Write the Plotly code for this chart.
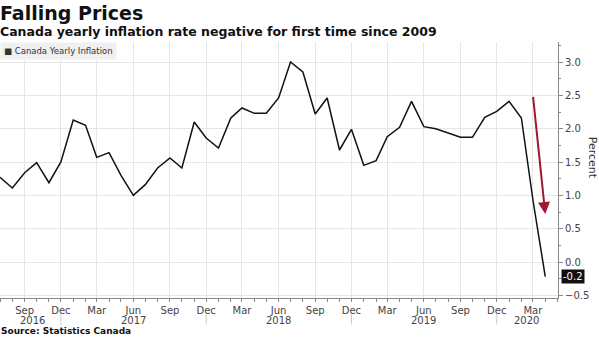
import plotly.graph_objects as go
import pandas as pd

months = pd.date_range("2016-07-01", "2020-04-01", freq="MS")
inflation = [1.27, 1.11, 1.34, 1.49, 1.19, 1.50,
             2.13, 2.05, 1.57, 1.64, 1.30, 1.00, 1.16, 1.41, 1.56, 1.41, 2.10, 1.86,
             1.71, 2.16, 2.31, 2.23, 2.23, 2.46, 3.00, 2.85, 2.22, 2.46, 1.68, 1.99,
             1.45, 1.52, 1.88, 2.02, 2.41, 2.03, 2.00, 1.93, 1.87, 1.87, 2.17, 2.26,
             2.41, 2.16, 0.93, -0.22]
tick_dates = ["2016-09-01", "2016-12-01", "2017-03-01", "2017-06-01", "2017-09-01",
              "2017-12-01", "2018-03-01", "2018-06-01", "2018-09-01", "2018-12-01",
              "2019-03-01", "2019-06-01", "2019-09-01", "2019-12-01", "2020-03-01"]
tick_text = ["Sep", "Dec", "Mar", "Jun", "Sep", "Dec", "Mar", "Jun", "Sep", "Dec",
             "Mar", "Jun", "Sep", "Dec", "Mar"]
year_labels = ["2016", "2017", "2018", "2019", "2020"]
year_pos = ["2016-09-20", "2017-06-01", "2018-06-01", "2019-06-01", "2020-02-15"]
year_seps = ["2016-12-01", "2017-12-01", "2018-12-01", "2019-12-01"]
y_ticks = [-0.5, 0.0, 0.5, 1.0, 1.5, 2.0, 2.5, 3.0]
last_label = "-0.2"

FONT = "DejaVu Sans"
fig = go.Figure()
fig.add_trace(go.Scatter(x=months, y=inflation, mode="lines",
                         line=dict(color="#111111", width=1.5),
                         name="Canada Yearly Inflation", showlegend=False,
                         hoverinfo="skip"))

fig.update_layout(
    width=599, height=337,
    margin=dict(l=0, r=41, t=42, b=39),
    paper_bgcolor="white", plot_bgcolor="white",
    font=dict(family=FONT, color="#333333", size=10),
    xaxis=dict(
        type="date",
        range=["2016-07-01", "2020-05-03"],
        tickmode="array", tickvals=tick_dates, ticktext=tick_text,
        ticks="outside", ticklen=3, tickcolor="#888888",
        ticklabelstandoff=0,
        showgrid=True, gridcolor="#e6e6e6", gridwidth=1,
        showline=True, linecolor="#888888", linewidth=1,
        tickfont=dict(size=10, color="#444444"),
        minor=dict(dtick="M1", tick0="2016-01-01", ticks="outside", ticklen=3,
                   tickcolor="#888888", showgrid=False),
        zeroline=False, fixedrange=True,
    ),
    yaxis=dict(
        side="right", range=[-0.54, 3.30],
        tickmode="array", tickvals=y_ticks,
        tickformat=".1f",
        ticks="outside", ticklen=4, tickcolor="#888888",
        showgrid=True, gridcolor="#e6e6e6", gridwidth=1,
        showline=True, linecolor="#888888", linewidth=1,
        tickfont=dict(size=10, color="#444444"),
        minor=dict(dtick=0.25, tick0=0, ticks="outside", ticklen=2,
                   tickcolor="#888888", showgrid=False),
        zeroline=False, fixedrange=True,
    ),
)

annotations = [
    dict(text="<b>Falling Prices</b>", xref="paper", yref="paper",
         x=-0.003, y=1.0, xanchor="left", yanchor="top",
         yshift=42, showarrow=False, font=dict(family=FONT, size=19, color="#111111")),
    dict(text="<b>Canada yearly inflation rate negative for first time since 2009</b>",
         xref="paper", yref="paper", x=-0.003, y=1.0, xanchor="left", yanchor="top",
         yshift=20, showarrow=False, font=dict(family=FONT, size=12.5, color="#111111")),
    dict(text="<b>Source: Statistics Canada</b>", xref="paper", yref="paper",
         x=0.0, y=0.0, xanchor="left", yanchor="middle", yshift=-33, borderpad=0,
         showarrow=False, font=dict(family=FONT, size=9, color="#111111")),
    dict(text="■ Canada Yearly Inflation", xref="paper", yref="paper",
         x=0.0, y=1.0, xanchor="left", yanchor="top", yshift=0,
         showarrow=False, bgcolor="#f0f0f0", borderpad=3,
         font=dict(family=FONT, size=8.5, color="#333333")),
    dict(text="Percent", xref="paper", yref="paper", x=1.0, y=0.55,
         xanchor="left", yanchor="middle", xshift=26, textangle=90,
         showarrow=False, font=dict(family=FONT, size=11, color="#333333")),
    dict(text=last_label, xref="paper", yref="y", x=1.0, y=inflation[-1],
         xanchor="left", yanchor="middle", xshift=3, showarrow=False,
         bgcolor="#111111", borderpad=1,
         font=dict(family=FONT, size=10, color="white")),
    dict(x="2020-04-01", y=0.72, ax="2020-03-01", ay=2.5, xref="x", yref="y",
         axref="x", ayref="y", text="", showarrow=True, arrowhead=2,
         arrowsize=1.2, arrowwidth=2, arrowcolor="#a01733"),
]
for lab, pos in zip(year_labels, year_pos):
    annotations.append(dict(text=lab, xref="x", yref="paper", x=pos, y=0,
                            yshift=-22, yanchor="middle", showarrow=False,
                            font=dict(family=FONT, size=10, color="#444444")))
for d in year_seps:
    annotations.append(dict(text="", xref="x", yref="paper", x=d, y=0, ax=0, ay=12,
                            showarrow=True, arrowhead=0, arrowwidth=1,
                            arrowcolor="#cccccc", yshift=-16, standoff=0))
fig.update_layout(annotations=annotations)

fig.write_html("out.html")
